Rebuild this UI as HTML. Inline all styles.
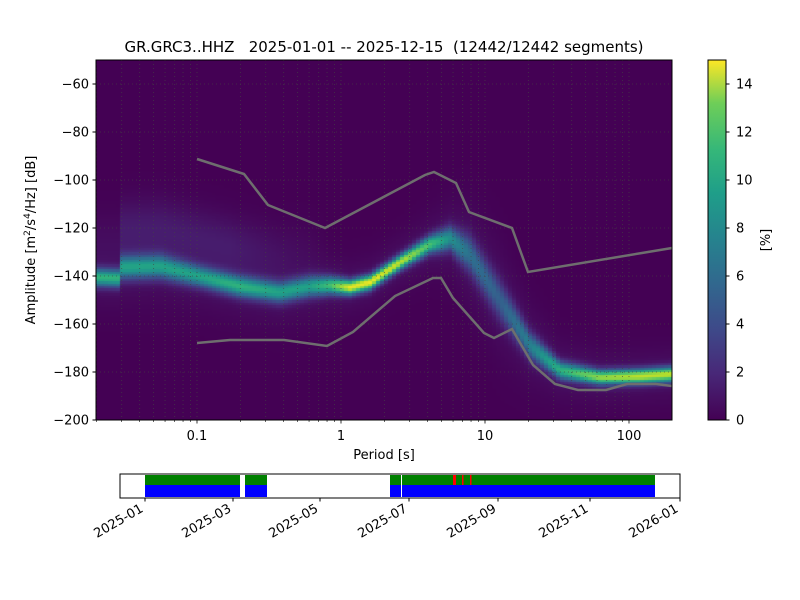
<!DOCTYPE html>
<html><head><meta charset="utf-8"><style>
body{margin:0;background:#fff;width:800px;height:600px;overflow:hidden;font-family:"Liberation Sans","DejaVu Sans",sans-serif}
#c{position:absolute;left:96px;top:60px}
svg{position:absolute;left:0;top:0}
</style></head><body>
<canvas id="c" width="576" height="360"></canvas>
<svg width="800" height="600" xmlns="http://www.w3.org/2000/svg" font-family="DejaVu Sans, Liberation Sans, sans-serif" font-size="13">
<defs><linearGradient id="vir" x1="0" y1="1" x2="0" y2="0">
<stop offset="0" stop-color="#440154"/><stop offset="0.13" stop-color="#482878"/><stop offset="0.25" stop-color="#3e4989"/><stop offset="0.38" stop-color="#31688e"/><stop offset="0.5" stop-color="#26828e"/><stop offset="0.63" stop-color="#1f9e89"/><stop offset="0.75" stop-color="#35b779"/><stop offset="0.88" stop-color="#6ece58"/><stop offset="1" stop-color="#fde725"/></linearGradient></defs>
<g id="grid" stroke="#444" stroke-width="0.8" stroke-dasharray="1,3" opacity="0.8"></g>
<g fill="none" stroke="#6e6e6e" stroke-width="2.5">
<polyline points="197,159 244,174 268,205 325,228 425,175 434,172 456,183 469,212 512,228 528,272 672,248"/>
<polyline points="197,343 230,340 284,340 327,346 353,332 395,296 433,278 441,278 453,298 484,333 494,338 512,329 533,365 555,384 578,390 606,390 627,384 656,384 672,386"/>
</g>
<rect x="96" y="60" width="576" height="360" fill="none" stroke="#000" stroke-width="1"/>
<g id="ticks" stroke="#000"></g>
<g id="lab" fill="#000"></g>
<text x="384" y="52" text-anchor="middle" font-size="15" xml:space="preserve">GR.GRC3..HHZ   2025-01-01 -- 2025-12-15  (12442/12442 segments)</text>
<text x="384" y="459" text-anchor="middle">Period [s]</text>
<text transform="translate(35,240) rotate(-90)" text-anchor="middle">Amplitude [m<tspan font-size="9" dy="-5">2</tspan><tspan dy="5">/s</tspan><tspan font-size="9" dy="-5">4</tspan><tspan dy="5">/Hz] [dB]</tspan></text>
<rect x="708" y="60" width="18" height="360" fill="url(#vir)" stroke="#000" stroke-width="1"/>
<text transform="translate(770,240) rotate(-90)" text-anchor="middle">[%]</text>
<rect x="120" y="474" width="560" height="24" fill="#fff" stroke="#000"/>
<g>
<rect x="145" y="475" width="95" height="10" fill="#008000"/><rect x="145" y="485" width="95" height="12" fill="#0000ff"/>
<rect x="245" y="475" width="22" height="10" fill="#008000"/><rect x="245" y="485" width="22" height="12" fill="#0000ff"/>
<rect x="390" y="475" width="265" height="10" fill="#008000"/><rect x="390" y="485" width="265" height="12" fill="#0000ff"/>
<rect x="401" y="475" width="1" height="22" fill="#fff"/>
<rect x="453" y="475" width="3" height="10" fill="#f00"/><rect x="462" y="475" width="1.5" height="10" fill="#f00"/><rect x="470" y="475" width="1.5" height="10" fill="#f00"/>
</g>
<g id="tl" stroke="#000"></g>
</svg>
<script>
function vir(t){var s=[[68,1,84],[72,40,120],[62,73,137],[49,104,142],[38,130,142],[31,158,137],[53,183,121],[110,206,88],[181,222,43],[253,231,37]];
t=Math.max(0,Math.min(1,t))*9;var i=Math.min(8,Math.floor(t)),f=t-i;return s[i].map((v,k)=>Math.round(v+(s[i+1][k]-v)*f));}
var A=[[96,277,6,9],[120,278,6,9],[122,267,8,8],[160,266,8,8],[200,276,7,8],[240,286,7,9],[280,292,7,8],[310,286,7,8],[330,285,6,10],[350,287,5,14],[370,282,5,14],[400,262,5,13],[430,244,6,10],[450,238,8,7],[470,254,12,5],[500,300,13,4],[530,345,9,6],[560,370,6,9],[600,377,5,12],[640,376,5,13],[672,374,5,13]];
function it(x){for(var i=0;i<A.length-1;i++){if(x<=A[i+1][0]){var f=(x-A[i][0])/(A[i+1][0]-A[i][0]);return [1,2,3].map(k=>A[i][k]+(A[i+1][k]-A[i][k])*f);}}return A[A.length-1].slice(1);}
var cv=document.getElementById('c'),g=cv.getContext('2d'),im=g.createImageData(576,360);
for(var px=0;px<576;px++){var bx=Math.floor(px/4)*4,x=96+bx+2,p=it(x);
 for(var py=0;py<360;py++){var by=Math.floor(py/2.4)*2.4,y=60+by+1.2,d=(y-p[0])/p[1];
  var v=p[2]*Math.exp(-d*d/2);
  var d2=(y-p[0])/(p[1]*2.5+6);v+=0.6*Math.exp(-d2*d2/2);
  if(x<330){var w=x<122?0.4:(x>230?Math.max(0,(330-x)/100):1);var d3=(y-(p[0]-40))/20;v+=1.0*w*Math.exp(-d3*d3/2);}
  var c=vir(v/15),o=(py*576+px)*4;im.data[o]=c[0];im.data[o+1]=c[1];im.data[o+2]=c[2];im.data[o+3]=255;}}
g.putImageData(im,0,0);
var NS='http://www.w3.org/2000/svg';
function el(p,t,a,txt){var e=document.createElementNS(NS,t);for(var k in a)e.setAttribute(k,a[k]);if(txt!=null)e.textContent=txt;document.getElementById(p).appendChild(e);}
function X(per){return 341+144*Math.log10(per);}
for(var dec=-2;dec<=2;dec++)for(var m=1;m<10;m++){var x=X(m*Math.pow(10,dec));if(x>96&&x<672){el('grid','line',{x1:x,x2:x,y1:60,y2:420});el('ticks','line',{x1:x,x2:x,y1:420,y2:m==1?423.5:422,'stroke-width':m==1?0.8:0.6});}}
[[0.1,'0.1'],[1,'1'],[10,'10'],[100,'100']].forEach(a=>el('lab','text',{x:X(a[0]),y:440,'text-anchor':'middle'},a[1]));
for(var v=-60;v>=-200;v-=20){var y=84+(-60-v)*2.4;if(v>-200)el('grid','line',{x1:96,x2:672,y1:y,y2:y});el('ticks','line',{x1:92.5,x2:96,y1:y,y2:y});el('lab','text',{x:89,y:y+4.5,'text-anchor':'end'},'\u2212'+(-v));}
for(var v=0;v<=14;v+=2){var y=420-v*24;el('ticks','line',{x1:726,x2:729.5,y1:y,y2:y});el('lab','text',{x:736,y:y+4.5},String(v));}
var tl=[[145,'2025-01'],[233,'2025-03'],[320,'2025-05'],[409,'2025-07'],[498,'2025-09'],[590,'2025-11'],[680,'2026-01']];
tl.forEach(a=>{el('tl','line',{x1:a[0],x2:a[0],y1:498,y2:501.5});el('lab','text',{transform:'translate('+(a[0]-1)+',511) rotate(-30)','text-anchor':'end'},a[1]);});
</script>
</body></html>
